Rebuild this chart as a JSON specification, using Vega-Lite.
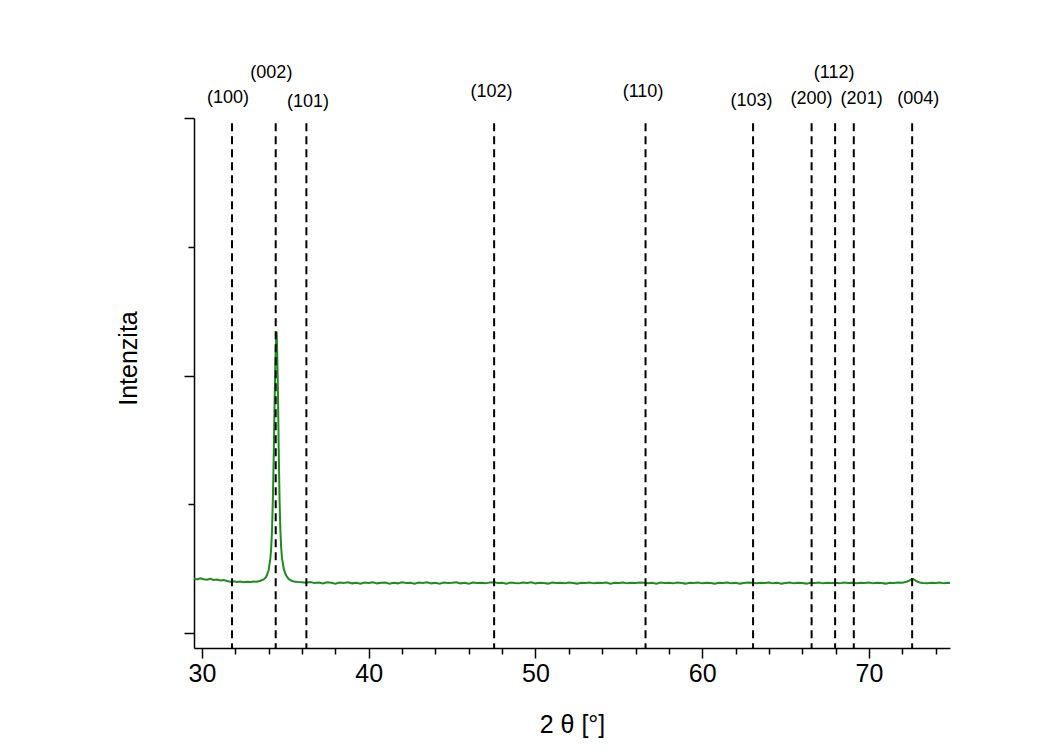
{
  "$schema": "https://vega.github.io/schema/vega-lite/v6.json",
  "width": 756,
  "height": 530,
  "autosize": {"type": "none"},
  "padding": {"left": 194, "top": 118, "right": 100, "bottom": 103},
  "background": "white",
  "config": {
    "view": {"stroke": null},
    "font": "Liberation Sans",
    "axis": {"domainColor": "black", "tickColor": "black", "domainWidth": 1.5, "tickWidth": 1.5, "grid": false, "labelColor": "black", "titleColor": "black", "labelFont": "Liberation Sans", "titleFont": "Liberation Sans", "titleFontWeight": "normal"}
  },
  "datasets": {
    "xrd": [
      {"t":29.52,"i":0.212},{"t":29.7,"i":0.208},{"t":29.9,"i":0.213},{"t":30.1,"i":0.209},{"t":30.3,"i":0.207},{"t":30.5,"i":0.211},{"t":30.7,"i":0.206},{"t":30.9,"i":0.208},{"t":31.1,"i":0.204},{"t":31.3,"i":0.206},{"t":31.5,"i":0.202},{"t":31.7,"i":0.199},{"t":31.9,"i":0.201},{"t":32.1,"i":0.198},{"t":32.3,"i":0.2},{"t":32.5,"i":0.197},{"t":32.7,"i":0.199},{"t":32.9,"i":0.198},{"t":33.1,"i":0.2},{"t":33.3,"i":0.199},
      {"t":33.5,"i":0.203},{"t":33.7,"i":0.208},{"t":33.85,"i":0.218},{"t":34.0,"i":0.245},{"t":34.1,"i":0.29},{"t":34.15,"i":0.33},{"t":34.2,"i":0.4},{"t":34.25,"i":0.52},{"t":34.3,"i":0.68},{"t":34.35,"i":0.88},{"t":34.4,"i":1.05},{"t":34.45,"i":1.16},{"t":34.48,"i":1.17},{"t":34.5,"i":1.12},{"t":34.55,"i":0.95},{"t":34.6,"i":0.72},{"t":34.65,"i":0.52},{"t":34.7,"i":0.4},{"t":34.75,"i":0.33},{"t":34.8,"i":0.29},{"t":34.9,"i":0.25},{"t":35.0,"i":0.23},{"t":35.1,"i":0.218},{"t":35.2,"i":0.21},{"t":35.35,"i":0.204},{"t":35.5,"i":0.2},{"t":35.75,"i":0.198},
      {"t":36.0,"i":0.197},{"t":36.25,"i":0.195},{"t":36.5,"i":0.198},{"t":36.75,"i":0.194},{"t":37.0,"i":0.196},{"t":37.25,"i":0.193},{"t":37.5,"i":0.197},{"t":37.75,"i":0.195},{"t":38.0,"i":0.192},{"t":38.25,"i":0.196},{"t":38.5,"i":0.194},{"t":38.75,"i":0.197},{"t":39.0,"i":0.193},{"t":39.25,"i":0.195},{"t":39.5,"i":0.192},{"t":39.75,"i":0.196},{"t":40.0,"i":0.194},{"t":40.25,"i":0.197},{"t":40.5,"i":0.193},{"t":40.75,"i":0.195},{"t":41.0,"i":0.196},{"t":41.25,"i":0.192},{"t":41.5,"i":0.195},{"t":41.75,"i":0.193},{"t":42.0,"i":0.197},{"t":42.25,"i":0.194},{"t":42.5,"i":0.195},{"t":42.75,"i":0.192},{"t":43.0,"i":0.196},{"t":43.25,"i":0.194},{"t":43.5,"i":0.197},{"t":43.75,"i":0.193},{"t":44.0,"i":0.195},{"t":44.25,"i":0.192},{"t":44.5,"i":0.196},{"t":44.75,"i":0.194},{"t":45.0,"i":0.195},{"t":45.25,"i":0.197},{"t":45.5,"i":0.193},{"t":45.75,"i":0.195},{"t":46.0,"i":0.192},{"t":46.25,"i":0.196},{"t":46.5,"i":0.194},{"t":46.75,"i":0.195},{"t":47.0,"i":0.193},{"t":47.25,"i":0.196},{"t":47.5,"i":0.197},{"t":47.75,"i":0.194},{"t":48.0,"i":0.195},{"t":48.25,"i":0.192},{"t":48.5,"i":0.196},{"t":48.75,"i":0.194},{"t":49.0,"i":0.193},{"t":49.25,"i":0.196},{"t":49.5,"i":0.194},{"t":49.75,"i":0.197},{"t":50.0,"i":0.193},{"t":50.25,"i":0.195},{"t":50.5,"i":0.194},{"t":50.75,"i":0.192},{"t":51.0,"i":0.196},{"t":51.25,"i":0.194},{"t":51.5,"i":0.195},{"t":51.75,"i":0.193},{"t":52.0,"i":0.196},{"t":52.25,"i":0.194},{"t":52.5,"i":0.192},{"t":52.75,"i":0.195},{"t":53.0,"i":0.194},{"t":53.25,"i":0.196},{"t":53.5,"i":0.193},{"t":53.75,"i":0.195},{"t":54.0,"i":0.194},{"t":54.25,"i":0.196},{"t":54.5,"i":0.192},{"t":54.75,"i":0.195},{"t":55.0,"i":0.194},{"t":55.25,"i":0.196},{"t":55.5,"i":0.193},{"t":55.75,"i":0.195},{"t":56.0,"i":0.194},{"t":56.25,"i":0.196},{"t":56.5,"i":0.195},{"t":56.75,"i":0.193},{"t":57.0,"i":0.195},{"t":57.25,"i":0.192},{"t":57.5,"i":0.196},{"t":57.75,"i":0.194},{"t":58.0,"i":0.195},{"t":58.25,"i":0.193},{"t":58.5,"i":0.196},{"t":58.75,"i":0.194},{"t":59.0,"i":0.192},{"t":59.25,"i":0.195},{"t":59.5,"i":0.194},{"t":59.75,"i":0.196},{"t":60.0,"i":0.193},{"t":60.25,"i":0.195},{"t":60.5,"i":0.194},{"t":60.75,"i":0.192},{"t":61.0,"i":0.195},{"t":61.25,"i":0.194},{"t":61.5,"i":0.196},{"t":61.75,"i":0.193},{"t":62.0,"i":0.195},{"t":62.25,"i":0.192},{"t":62.5,"i":0.194},{"t":62.75,"i":0.196},{"t":63.0,"i":0.195},{"t":63.25,"i":0.193},{"t":63.5,"i":0.195},{"t":63.75,"i":0.194},{"t":64.0,"i":0.196},{"t":64.25,"i":0.193},{"t":64.5,"i":0.195},{"t":64.75,"i":0.192},{"t":65.0,"i":0.194},{"t":65.25,"i":0.196},{"t":65.5,"i":0.193},{"t":65.75,"i":0.195},{"t":66.0,"i":0.194},{"t":66.25,"i":0.192},{"t":66.5,"i":0.195},{"t":66.75,"i":0.194},{"t":67.0,"i":0.196},{"t":67.25,"i":0.193},{"t":67.5,"i":0.195},{"t":67.75,"i":0.194},{"t":68.0,"i":0.195},{"t":68.25,"i":0.193},{"t":68.5,"i":0.196},{"t":68.75,"i":0.194},{"t":69.0,"i":0.195},{"t":69.25,"i":0.193},{"t":69.5,"i":0.195},{"t":69.75,"i":0.194},{"t":70.0,"i":0.196},{"t":70.25,"i":0.193},{"t":70.5,"i":0.195},{"t":70.75,"i":0.194},{"t":71.0,"i":0.192},{"t":71.25,"i":0.195},{"t":71.5,"i":0.194},{"t":71.75,"i":0.196},{"t":72.0,"i":0.195},{"t":72.2,"i":0.198},{"t":72.4,"i":0.203},{"t":72.55,"i":0.209},{"t":72.65,"i":0.21},{"t":72.8,"i":0.204},{"t":72.95,"i":0.198},{"t":73.1,"i":0.195},{"t":73.25,"i":0.194},{"t":73.5,"i":0.193},{"t":73.75,"i":0.195},{"t":74.0,"i":0.194},{"t":74.25,"i":0.196},{"t":74.5,"i":0.193},{"t":74.75,"i":0.195},{"t":74.86,"i":0.194}
    ],
    "peaks": [
      {"hkl":"(100)","pos":31.8,"lx":31.56,"ly":2.077},
      {"hkl":"(002)","pos":34.42,"lx":34.16,"ly":2.174},
      {"hkl":"(101)","pos":36.26,"lx":36.36,"ly":2.061},
      {"hkl":"(102)","pos":47.52,"lx":47.36,"ly":2.102},
      {"hkl":"(110)","pos":56.6,"lx":56.45,"ly":2.1},
      {"hkl":"(103)","pos":63.05,"lx":62.96,"ly":2.066},
      {"hkl":"(200)","pos":66.56,"lx":66.56,"ly":2.073},
      {"hkl":"(112)","pos":67.97,"lx":67.91,"ly":2.174},
      {"hkl":"(201)","pos":69.09,"lx":69.56,"ly":2.073},
      {"hkl":"(004)","pos":72.59,"lx":72.95,"ly":2.073}
    ]
  },
  "layer": [
    {
      "data": {"name": "xrd"},
      "mark": {"type": "line", "color": "#1e8c1e", "strokeWidth": 2, "interpolate": "linear"},
      "encoding": {
        "x": {"field": "t", "type": "quantitative", "scale": {"domain": [29.52, 74.86], "nice": false, "zero": false},
              "axis": {"values": [30, 40, 50, 60, 70], "tickSize": 10, "labelFontSize": 25, "labelPadding": 3, "title": "2 θ [°]", "titleFontSize": 25, "titlePadding": 26, "orient": "bottom"}},
        "y": {"field": "i", "type": "quantitative", "scale": {"domain": [-0.058, 2.0], "nice": false, "zero": false},
              "axis": {"values": [0, 1, 2], "tickSize": 10, "labels": false, "title": "Intenzita", "titleFontSize": 25, "titleX": -66, "titleY": 240, "titleAngle": 270, "titleAlign": "center", "titleBaseline": "middle", "orient": "left"}}
      }
    },
    {
      "data": {"name": "peaks"},
      "mark": {"type": "rule", "color": "black", "strokeWidth": 2, "strokeDash": [8, 5]},
      "encoding": {
        "x": {"field": "pos", "type": "quantitative",
              "axis": {"values": [32, 34, 36, 38, 42, 44, 46, 48, 52, 54, 56, 58, 62, 64, 66, 68, 72, 74], "tickSize": 6, "labels": false, "domain": false, "title": null, "orient": "bottom"}},
        "y": {"datum": 1.98, "type": "quantitative",
              "axis": {"values": [0.5, 1.5], "tickSize": 6, "labels": false, "domain": false, "title": null, "orient": "left"}},
        "y2": {"datum": -0.058}
      }
    },
    {
      "data": {"name": "peaks"},
      "mark": {"type": "text", "fontSize": 18, "font": "Liberation Sans", "color": "black", "align": "center", "baseline": "middle"},
      "encoding": {
        "x": {"field": "lx", "type": "quantitative", "axis": null},
        "y": {"field": "ly", "type": "quantitative", "axis": null},
        "text": {"field": "hkl"}
      }
    }
  ],
  "resolve": {"axis": {"x": "independent", "y": "independent"}}
}
